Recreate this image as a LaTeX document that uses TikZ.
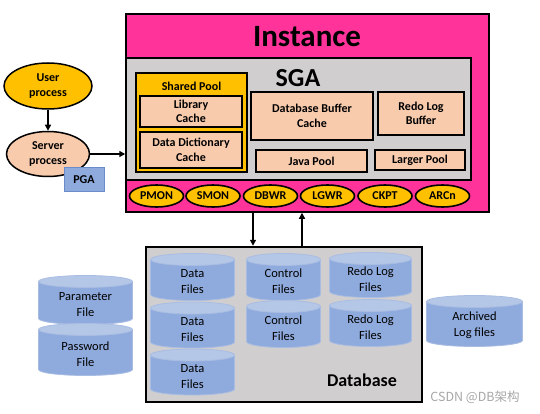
\documentclass[tikz,border=0pt]{standalone}
\usepackage{fontspec}
\setmainfont{Carlito}
\newfontfamily\cjkfont{Noto Sans CJK SC}
\usetikzlibrary{arrows.meta,calc,shapes.geometric}
\definecolor{instpink}{HTML}{FF3399}
\definecolor{gold}{HTML}{FFC000}
\definecolor{peach}{HTML}{F8CBAD}
\definecolor{sgagray}{HTML}{D0CECE}
\definecolor{cylbody}{HTML}{8FAADC}
\definecolor{cyltop}{HTML}{B4C7E7}
\definecolor{cylline}{HTML}{A9BDE3}
\definecolor{pgaline}{HTML}{6A8CCB}
\definecolor{wmark}{HTML}{A6A6A6}
\newcommand{\boxfont}{\fontsize{12}{14.5}\selectfont\bfseries}
\newcommand{\cylfont}{\fontsize{12.5}{16}\selectfont}
\begin{document}
\begin{tikzpicture}[x=1pt,y=-1pt,
  frame/.style={draw=black, inner sep=0pt},
  membox/.style={draw=black, line width=1.8pt, fill=peach, inner sep=0pt, align=center, font=\boxfont},
  proc/.style={ellipse, draw=black, line width=1.6pt, fill=gold, inner sep=0pt, minimum width=54, minimum height=22, font=\boxfont},
  bigell/.style={ellipse, draw=black, line width=1.5pt, inner sep=0pt, align=center, font=\boxfont},
  arr/.style={line width=1.3pt, -{Triangle[length=6pt,width=6pt]}},
  cyltext/.style={align=center, font=\cylfont, yshift=-4.5pt},
  cyl/.style={inner sep=0pt, path picture={
    \path[fill=cylbody, draw=cylline, line width=0.8pt]
      let \p1=(path picture bounding box.north west),
          \p2=(path picture bounding box.south east),
          \n1={(\x2-\x1)/2-0.5pt} in
      (\x1+0.5pt,\y1-6.5pt) -- (\x1+0.5pt,\y2+6.5pt)
      arc[start angle=180, end angle=360, x radius=\n1, y radius=6pt]
      -- (\x2-0.5pt,\y1-6.5pt) -- cycle;
    \path[fill=cyltop, draw=cylline, line width=0.8pt]
      let \p1=(path picture bounding box.north west),
          \p2=(path picture bounding box.south east),
          \n1={(\x2-\x1)/2-0.5pt} in
      (\x1+0.5pt+\n1,\y1-6.5pt) ellipse[x radius=\n1, y radius=6pt];
  }}
]
\useasboundingbox (0,0) rectangle (540,414);

% Instance
\node[frame, line width=1.5pt, fill=instpink, minimum width=363, minimum height=198] (inst) at (307.5,113) {};
\node[font=\fontsize{31}{36}\selectfont\bfseries] (insttitle) at (307,37) {Instance};
\node[frame, line width=1.5pt, fill=sgagray, minimum width=345, minimum height=122] (sga) at (298.5,119) {};
\node[font=\fontsize{26}{30}\selectfont\bfseries] (sgatitle) at (298,78) {SGA};

% Shared pool
\node[frame, line width=1.2pt, fill=gold, minimum width=111, minimum height=99] (shared) at (191.5,122.5) {};
\node[font=\boxfont] (sharedtitle) at (191.5,86) {Shared Pool};
\node[membox, minimum width=102, minimum height=31] (lib) at (191,111.5) {Library\\Cache};
\node[membox, minimum width=102, minimum height=36] (dict) at (191,150) {Data Dictionary\\Cache};
\node[membox, minimum width=122, minimum height=48] (dbbuf) at (312,116) {Database Buffer\\Cache};
\node[membox, minimum width=86, minimum height=43] (redobuf) at (421,113.5) {Redo Log\\Buffer};
\node[membox, minimum width=111, minimum height=22] (java) at (311.5,161) {Java Pool};
\node[membox, minimum width=90, minimum height=20] (large) at (420,160) {Larger Pool};

% Background processes
\node[proc] (pmon) at (156.5,196) {PMON};
\node[proc] (smon) at (213,196) {SMON};
\node[proc] (dbwr) at (270.5,196) {DBWR};
\node[proc] (lgwr) at (327.5,196) {LGWR};
\node[proc] (ckpt) at (385,196) {CKPT};
\node[proc] (arcn) at (442.5,196) {ARCn};

% User / server
\node[bigell, fill=gold, minimum width=88, minimum height=46] (user) at (48,86) {User\\process};
\node[bigell, fill=peach, minimum width=83, minimum height=45] (server) at (48,154) {Server\\process};
\node[draw=pgaline, line width=1pt, fill=cylbody, minimum width=40, minimum height=23, inner sep=0pt, font=\boxfont] (pga) at (84,179.5) {PGA};
\draw[arr] (user) -- (server);
\draw[arr, line width=1.8pt] (server.east) -- (inst.west |- server.east);

% Database
\node[frame, line width=2.5pt, fill=sgagray, minimum width=276, minimum height=155] (db) at (284,324.5) {};
\node[font=\fontsize{18}{22}\selectfont\bfseries] (dbtitle) at (362,380) {Database};
\coordinate (dn) at (253,0);
\coordinate (up) at (302,0);
\draw[arr] (inst.south -| dn) -- (db.north -| dn);
\draw[arr] (db.north -| up) -- (inst.south -| up);

% Cylinders
\node[cyl, minimum width=85, minimum height=48, label={[cyltext]center:{Data\\Files}}] (data1) at (192.5,277) {};
\node[cyl, minimum width=85, minimum height=47, label={[cyltext]center:{Data\\Files}}] (data2) at (192.5,325) {};
\node[cyl, minimum width=85, minimum height=47, label={[cyltext]center:{Data\\Files}}] (data3) at (192.5,372) {};
\node[cyl, minimum width=75, minimum height=48, label={[cyltext]center:{Control\\Files}}] (ctl1) at (283.5,277) {};
\node[cyl, minimum width=75, minimum height=48, label={[cyltext]center:{Control\\Files}}] (ctl2) at (283.5,324) {};
\node[cyl, minimum width=83, minimum height=46, label={[cyltext]center:{Redo Log\\Files}}] (redo1) at (370.5,275) {};
\node[cyl, minimum width=83, minimum height=48, label={[cyltext]center:{Redo Log\\Files}}] (redo2) at (370.5,323) {};
\node[cyl, minimum width=97, minimum height=52, label={[cyltext]center:{Archived\\Log files}}] (arch) at (474.5,321) {};
\node[cyl, minimum width=95, minimum height=50, label={[cyltext]center:{Parameter\\File}}] (param) at (85.5,300) {};
\node[cyl, minimum width=95, minimum height=53, label={[cyltext]center:{Password\\File}}] (passwd) at (85.5,349.5) {};

% Watermark
\node[text=wmark, font=\cjkfont\fontsize{12.5}{15}\selectfont] (wm) at (475,397) {CSDN @DB架构};
\end{tikzpicture}
\end{document}
